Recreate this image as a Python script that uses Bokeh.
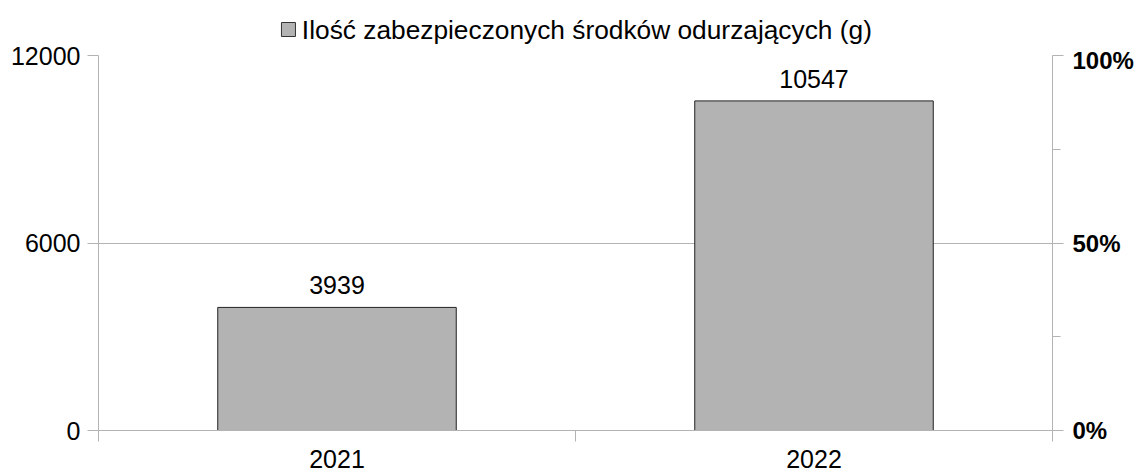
from bokeh.plotting import figure
from bokeh.layouts import column
from bokeh.models import (Range1d, LinearAxis, FixedTicker, ColumnDataSource,
                          PrintfTickFormatter, CustomJSTickFormatter)
from bokeh.core.properties import value
from bokeh.embed import file_html
from bokeh.resources import INLINE

years = ["2021", "2022"]
amounts = [3939, 10547]
left_ticks = [0, 6000, 12000]
right_ticks = [0, 50, 100]
right_minor = [25, 75]
legend_label = "Ilość zabezpieczonych środków odurzających (g)"

FONT = "Liberation Sans"
GRAY = "#b3b3b3"
W = 1140
TOP_H = 46
MAIN_H = 475 - TOP_H

# ---------- legend strip (drawn as its own small figure) ----------
top = figure(width=W, height=TOP_H, output_backend="svg", toolbar_location=None,
             x_range=Range1d(0, W), y_range=Range1d(TOP_H, 0),
             x_axis_location=None, y_axis_location=None,
             min_border=0, min_border_left=0, min_border_right=0,
             min_border_top=0, min_border_bottom=0)
top.grid.visible = False
top.outline_line_color = None
top.rect(x=[227], y=[29], width=14, height=14, width_units="screen",
         height_units="screen", fill_color=GRAY, line_color="#333333", line_width=1)
top.text(x=[243], y=[29.5], text=[legend_label], text_font=value(FONT),
         text_font_size="26.3px", text_align="left", text_baseline="middle",
         text_color="black")

# ---------- main chart ----------
xs = [i + 0.5 for i in range(len(years))]
src = ColumnDataSource(dict(x=xs, top=amounts, label=[str(v) for v in amounts]))

p = figure(width=W, height=MAIN_H, output_backend="svg", toolbar_location=None,
           x_range=Range1d(0, len(years)), y_range=Range1d(0, 12000),
           min_border_left=98, min_border_right=88, min_border_top=9, min_border_bottom=45)
p.outline_line_color = None
p.background_fill_color = "white"

bars = p.vbar(x="x", top="top", width=0.5, bottom=0, source=src,
              fill_color=GRAY, line_color="#222222", line_width=1)

p.text(x="x", y="top", text="label", source=src, y_offset=-22,
       text_align="center", text_baseline="middle",
       text_font=value(FONT), text_font_size="25px", text_color="black")

# left axis
ya = p.yaxis[0]
ya.ticker = FixedTicker(ticks=left_ticks, minor_ticks=[])
ya.axis_line_color = GRAY
ya.major_tick_line_color = GRAY
ya.major_tick_out = 11
ya.major_tick_in = 0
ya.minor_tick_line_color = None
ya.major_label_text_font = FONT
ya.major_label_text_font_size = "25px"
ya.major_label_text_color = "black"
ya.major_label_standoff = 7

p.ygrid.ticker = FixedTicker(ticks=left_ticks)
p.ygrid.grid_line_color = GRAY
p.xgrid.visible = False

# right axis
p.extra_y_ranges = {"pct": Range1d(0, 100)}
ra = LinearAxis(y_range_name="pct",
                ticker=FixedTicker(ticks=right_ticks, minor_ticks=right_minor),
                formatter=PrintfTickFormatter(format="%d%%"))
ra.axis_line_color = GRAY
ra.major_tick_line_color = GRAY
ra.minor_tick_line_color = GRAY
ra.major_tick_out = 11
ra.major_tick_in = 0
ra.minor_tick_out = 8
ra.minor_tick_in = 0
ra.major_label_text_font = FONT
ra.major_label_text_font_size = "24px"
ra.major_label_text_font_style = "bold"
ra.major_label_text_color = "black"
ra.major_label_standoff = 9
p.add_layout(ra, "right")

# bottom axis: labels at category centres, tick marks at category boundaries
xa = p.xaxis[0]
xa.ticker = FixedTicker(ticks=xs, minor_ticks=list(range(len(years) + 1)))
xa.formatter = CustomJSTickFormatter(args=dict(labels=years),
                                     code="return labels[Math.floor(tick)] || '';")
xa.axis_line_color = GRAY
xa.major_tick_line_color = None
xa.minor_tick_line_color = GRAY
xa.minor_tick_out = 11
xa.minor_tick_in = 0
xa.major_tick_out = 11
xa.major_label_text_font = FONT
xa.major_label_text_font_size = "25px"
xa.major_label_text_color = "black"
xa.major_label_standoff = 8

layout = column(top, p, spacing=0)
open("out.html", "w").write(file_html(layout, INLINE))
